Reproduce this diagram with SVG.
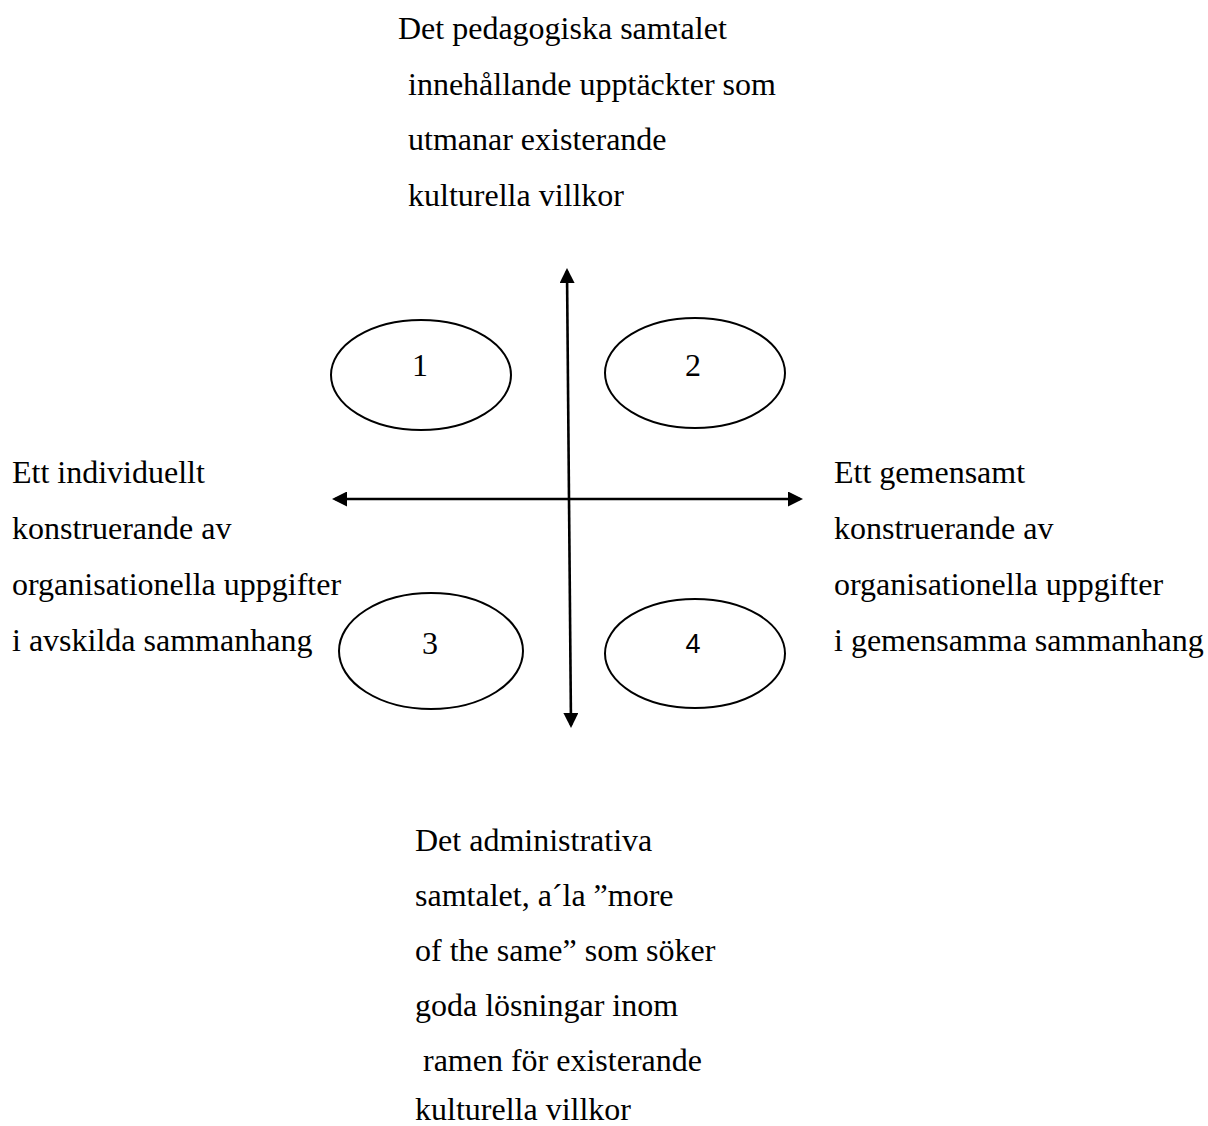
<svg xmlns="http://www.w3.org/2000/svg" width="1208" height="1126" viewBox="0 0 1208 1126">
  <style>
    .txt { font-family: "Liberation Serif", "Times New Roman", serif; font-size: 32px; fill: #000; }
    .num { font-family: "Liberation Serif", "Times New Roman", serif; font-size: 32px; fill: #000; text-anchor: middle; }
    .num-sans { font-family: "Liberation Sans", Arial, sans-serif; font-size: 27px; fill: #000; text-anchor: middle; }
    .oval { fill: none; stroke: #000; stroke-width: 2; }
    .axis { stroke: #000; stroke-width: 2.6; fill: none; marker-start: url(#head); marker-end: url(#head); }
  </style>
  <defs>
    <marker id="head" markerUnits="userSpaceOnUse" markerWidth="15" markerHeight="15" refX="12" refY="7.5" orient="auto-start-reverse">
      <path d="M0,0 L15,7.5 L0,15 z" fill="#000"/>
    </marker>
  </defs>
  <rect width="1208" height="1126" fill="#fff"/>

  <!-- axes -->
  <g id="connectors">
    <line class="axis" x1="567" y1="271" x2="571" y2="725"/>
    <line class="axis" x1="335" y1="499" x2="800" y2="499"/>
  </g>

  <!-- quadrant ovals -->
  <g id="q1">
    <ellipse class="oval" cx="421" cy="375" rx="90" ry="55"/>
    <text class="num" x="420" y="376">1</text>
  </g>
  <g id="q2">
    <ellipse class="oval" cx="695" cy="373" rx="90" ry="55"/>
    <text class="num" x="693" y="376">2</text>
  </g>
  <g id="q3">
    <ellipse class="oval" cx="431" cy="651" rx="92" ry="58"/>
    <text class="num" x="430" y="654">3</text>
  </g>
  <g id="q4">
    <ellipse class="oval" cx="695" cy="653.5" rx="90" ry="54.5"/>
    <text class="num-sans" x="693" y="653">4</text>
  </g>

  <!-- axis end labels -->
  <g id="top-label">
    <text class="txt" x="398" y="39">Det pedagogiska samtalet</text>
    <text class="txt" x="408" y="95">innehållande upptäckter som</text>
    <text class="txt" x="408" y="150">utmanar existerande</text>
    <text class="txt" x="408" y="206">kulturella villkor</text>
  </g>
  <g id="left-label">
    <text class="txt" x="12" y="483">Ett individuellt</text>
    <text class="txt" x="12" y="539">konstruerande av</text>
    <text class="txt" x="12" y="595">organisationella uppgifter</text>
    <text class="txt" x="12" y="651">i avskilda sammanhang</text>
  </g>
  <g id="right-label">
    <text class="txt" x="834" y="483">Ett gemensamt</text>
    <text class="txt" x="834" y="539">konstruerande av</text>
    <text class="txt" x="834" y="595">organisationella uppgifter</text>
    <text class="txt" x="834" y="651">i gemensamma sammanhang</text>
  </g>
  <g id="bottom-label">
    <text class="txt" x="415" y="851">Det administrativa</text>
    <text class="txt" x="415" y="906">samtalet, a´la ”more</text>
    <text class="txt" x="415" y="961">of the same” som söker</text>
    <text class="txt" x="415" y="1016">goda lösningar inom</text>
    <text class="txt" x="423" y="1071">ramen för existerande</text>
    <text class="txt" x="415" y="1120">kulturella villkor</text>
  </g>
</svg>
